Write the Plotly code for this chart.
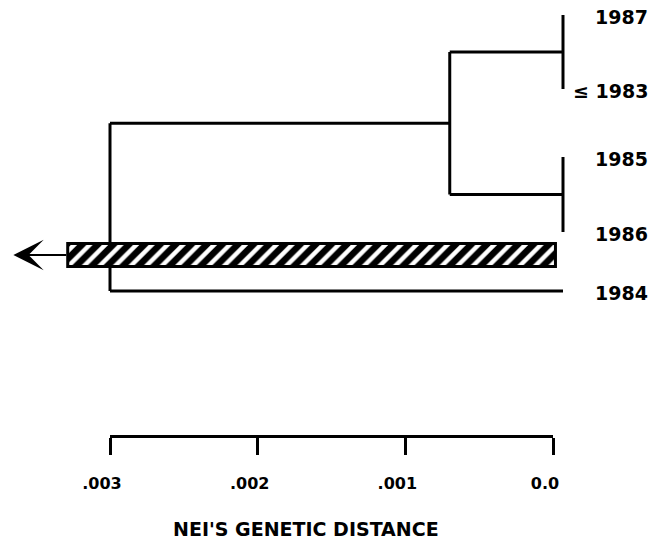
import plotly.graph_objects as go

# ---- data ----
leaf_labels = ["1987", "\u2264 1983", "1985", "1986", "1984"]
# merges: (child_a, child_b, Nei's genetic distance); nodes >= 5 are merged clusters
merges = [(0, 1, 0.0), (2, 3, 0.0), (5, 6, 0.00075), (7, 4, 0.003)]
bar_near = 0.00005     # hatched bar near end (distance)
bar_far = 0.00328      # hatched bar far end (distance)
arrow_tip = 0.00364    # arrow continues beyond the scale
scale_ticks = [0.003, 0.002, 0.001, 0.0]
scale_ticktext = [".003", ".002", ".001", "0.0"]
axis_title = "NEI'S GENETIC DISTANCE"

# ---- layout constants (pixel-like row positions) ----
LEAF_ROWS = [15, 89, 157, 232, 291]
LABEL_DY = 2
BAR_ROW = 255
BAR_THICK = 23
LABEL_X = -0.000576
W, H = 655, 552
BLACK = "black"
FONT = "DejaVu Sans"

# build dendrogram segments
pos = {i: (0.0, y) for i, y in enumerate(LEAF_ROWS)}
xs, ys = [], []
nid = len(LEAF_ROWS)
for a, b, d in merges:
    xa, ya = pos[a]
    xb, yb = pos[b]
    for cx, cy in ((xa, ya), (xb, yb)):
        if cx != d:
            xs += [cx, d, None]
            ys += [cy, cy, None]
    xs += [d, d, None]
    ys += [ya, yb, None]
    pos[nid] = (d, (ya + yb) / 2)
    nid += 1

fig = go.Figure()
fig.add_trace(go.Scatter(x=xs, y=ys, mode="lines",
                         line=dict(color=BLACK, width=3),
                         hoverinfo="skip", showlegend=False,
                         xaxis="x", yaxis="y"))

# invisible trace that carries the scale axis
fig.add_trace(go.Scatter(x=scale_ticks, y=[400] * len(scale_ticks), mode="markers",
                         marker=dict(opacity=0), hoverinfo="skip", showlegend=False,
                         xaxis="x2", yaxis="y"))

# hatched bar on an overlaying axis so it sits above the tree lines
fig.add_trace(go.Bar(orientation="h", x=[bar_far - bar_near], base=[bar_near],
                     y=[BAR_ROW], width=[BAR_THICK],
                     marker=dict(color="white",
                                 line=dict(color=BLACK, width=3),
                                 pattern=dict(shape="/", fgcolor=BLACK, bgcolor="white",
                                              fgopacity=1, size=11, solidity=0.6,
                                              fillmode="overlay")),
                     hoverinfo="skip", showlegend=False,
                     xaxis="x3", yaxis="y"))

xr = [563 / 151000, (563 - W) / 151000]

annotations = []
for lbl, y in zip(leaf_labels, LEAF_ROWS):
    annotations.append(dict(x=LABEL_X, y=y + LABEL_DY, xref="x", yref="y", text=lbl,
                            showarrow=False, xanchor="right", yanchor="middle",
                            font=dict(family=FONT, size=19, color=BLACK, weight="bold")))
annotations.append(dict(x=arrow_tip, y=BAR_ROW, ax=bar_far, ay=BAR_ROW,
                        xref="x", yref="y", axref="x", ayref="y", text="",
                        showarrow=True, arrowhead=3, arrowwidth=2.2, arrowsize=2.3,
                        arrowcolor=BLACK, standoff=0, startstandoff=0))
annotations.append(dict(x=306 / W, y=1 - 529 / H, xref="paper", yref="paper",
                        text=axis_title, showarrow=False, xanchor="center", yanchor="middle",
                        font=dict(family=FONT, size=19, color=BLACK, weight="bold")))

fig.update_layout(
    width=W, height=H,
    margin=dict(l=0, r=0, t=0, b=0, autoexpand=False),
    paper_bgcolor="white", plot_bgcolor="rgba(0,0,0,0)",
    showlegend=False, barmode="overlay",
    xaxis=dict(range=xr, visible=False, domain=[0, 1]),
    xaxis3=dict(range=xr, visible=False, overlaying="x"),
    yaxis=dict(range=[H, 0], visible=False, domain=[0, 1]),
    xaxis2=dict(domain=[110 / W, 553 / W], range=[0.003, 0.0], anchor="free",
                position=1 - 435.5 / H, side="bottom",
                showline=True, linewidth=3, linecolor=BLACK,
                ticks="outside", ticklen=17, tickwidth=3, tickcolor=BLACK,
                tickvals=scale_ticks, ticktext=scale_ticktext,
                ticklabelstandoff=15, ticklabelshift=8,
                tickfont=dict(family=FONT, size=16, color=BLACK, weight="bold"),
                showgrid=False, zeroline=False),
    annotations=annotations,
)

fig.write_html("out.html",
               config={"displayModeBar": False, "staticPlot": True},
               post_script="document.body.style.margin='0';document.body.style.overflow='hidden';")
